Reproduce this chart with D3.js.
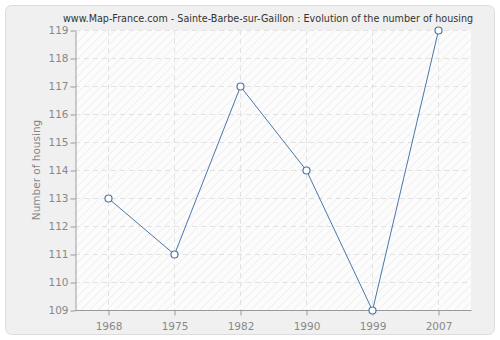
<!DOCTYPE html>
<html>
<head>
<meta charset="utf-8">
<script src="https://cdn.jsdelivr.net/npm/d3@7"></script>
<style>
  body { margin: 0; background: #fff; }
  svg { display: block; font-family: "DejaVu Sans", Verdana, sans-serif; }
</style>
</head>
<body>
<svg id="chart" width="500" height="340"></svg>
<script>
// DATA
const years = ["1968", "1975", "1982", "1990", "1999", "2007"];
const housing = [113, 111, 117, 114, 109, 119];
const yTicks = [109, 110, 111, 112, 113, 114, 115, 116, 117, 118, 119];

// DIMENSIONS
const WIDTH = 500, HEIGHT = 340;
const PLOT = {left: 75, right: 471, top: 30, bottom: 310};

const svg = d3.select("#chart");

// pattern for plot background
const defs = svg.append("defs");
const pat = defs.append("pattern")
  .attr("id", "hatch")
  .attr("patternUnits", "userSpaceOnUse")
  .attr("width", 6).attr("height", 6)
  .attr("patternTransform", "rotate(45)");
pat.append("rect").attr("width", 6).attr("height", 6).attr("fill", "#fcfcfc");
pat.append("line").attr("x1", 0).attr("y1", 0).attr("x2", 0).attr("y2", 6)
  .attr("stroke", "#f0f0f0").attr("stroke-width", 2);

// outer frame
svg.append("rect")
  .attr("x", 5.5).attr("y", 5.5)
  .attr("width", WIDTH - 11).attr("height", HEIGHT - 11)
  .attr("rx", 6)
  .attr("fill", "#f0f0f0")
  .attr("stroke", "#dcdcdc");

// SCALES
const x = d3.scalePoint().domain(years).range([PLOT.left, PLOT.right]).padding(0.5);
const y = d3.scaleLinear().domain([109, 119]).range([PLOT.bottom, PLOT.top]);

// plot background
svg.append("rect")
  .attr("x", PLOT.left).attr("y", PLOT.top)
  .attr("width", PLOT.right - PLOT.left).attr("height", PLOT.bottom - PLOT.top)
  .attr("fill", "url(#hatch)");

// grid
const grid = svg.append("g").attr("stroke", "#e2e2e2").attr("stroke-dasharray", "5,4");
grid.selectAll(".hg").data(yTicks).join("line")
  .attr("x1", PLOT.left).attr("x2", PLOT.right)
  .attr("y1", d => y(d) + 0.5).attr("y2", d => y(d) + 0.5);
grid.selectAll(".vg").data(years).join("line")
  .attr("x1", d => x(d) + 0.5).attr("x2", d => x(d) + 0.5)
  .attr("y1", PLOT.top).attr("y2", PLOT.bottom);

// AXES
const xAxis = svg.append("g")
  .attr("transform", `translate(0.5,${PLOT.bottom + 0.5})`)
  .call(d3.axisBottom(x).tickSize(5).tickSizeOuter(0));
xAxis.select(".domain").attr("d", `M${PLOT.left},0H${PLOT.right}`);

const yAxis = svg.append("g")
  .attr("transform", `translate(${PLOT.left + 0.5},0.5)`)
  .call(d3.axisLeft(y).tickValues(yTicks).tickSize(5).tickSizeOuter(0).tickFormat(d3.format("d")));

[xAxis, yAxis].forEach(a => {
  a.select(".domain").attr("stroke", "#999");
  a.selectAll(".tick line").attr("stroke", "#999");
  a.selectAll(".tick text")
    .attr("fill", "#888")
    .style("font-size", "10.5px")
    .style("font-family", "\"DejaVu Sans\", Verdana, sans-serif");
});
xAxis.selectAll(".tick text").attr("dy", "1.1em");
yAxis.selectAll(".tick text").attr("x", -7);

// y label
svg.append("text")
  .attr("transform", `translate(40,${(PLOT.top + PLOT.bottom) / 2}) rotate(-90)`)
  .attr("text-anchor", "middle")
  .attr("fill", "#888")
  .style("font-size", "10.5px")
  .text("Number of housing");

// title
const title = svg.append("text")
  .attr("x", 268).attr("y", 22)
  .attr("text-anchor", "middle")
  .attr("fill", "#333")
  .style("font-size", "11px")
  .text("www.Map-France.com - Sainte-Barbe-sur-Gaillon : Evolution of the number of housing");
// shrink font so the title spans the same width as in the picture
const tw = title.node().getComputedTextLength();
if (tw > 411) title.style("font-size", (11 * 411 / tw).toFixed(2) + "px");

// line
const pts = years.map((yr, i) => ({yr, v: housing[i]}));
svg.append("path")
  .datum(pts)
  .attr("fill", "none")
  .attr("stroke", "#4a77aa")
  .attr("stroke-width", 1)
  .attr("d", d3.line().x(d => x(d.yr) + 0.5).y(d => y(d.v) + 0.5));

svg.selectAll(".pt").data(pts).join("circle")
  .attr("cx", d => x(d.yr) + 0.5)
  .attr("cy", d => y(d.v) + 0.5)
  .attr("r", 3.5)
  .attr("fill", "#fff")
  .attr("stroke", "#4a77aa")
  .attr("stroke-width", 1.2);
</script>
</body>
</html>
